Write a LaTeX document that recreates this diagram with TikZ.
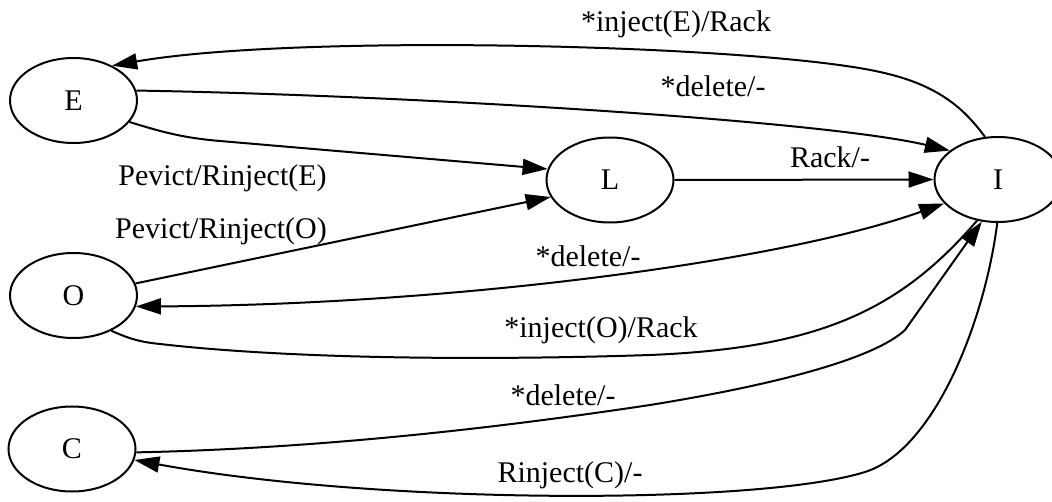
\documentclass[tikz,border=0pt]{standalone}
\usepackage{fontspec}
\setmainfont{Liberation Serif}
\usetikzlibrary{shapes.geometric,arrows.meta}
\begin{document}
\begin{tikzpicture}[x=1pt,y=-1pt,
  state/.style={ellipse,draw,line width=2pt,minimum width=127pt,minimum height=85pt,inner sep=0pt,font=\fontsize{30}{36}\selectfont},
  edge/.style={line width=2pt},
  tip/.tip={Triangle[length=25pt,width=16pt]},
  arr/.style={-tip},
  lbl/.style={font=\fontsize{30}{36}\selectfont,anchor=base,inner sep=0pt}]
\useasboundingbox (0,0) rectangle (1052,502);
\node[state] (E) at (73.5,100.5) {E};
\node[state] (O) at (73.5,295.5) {O};
\node[state] (C) at (72,449) {C};
\node[state] (L) at (610,180) {L};
\node[state] (I) at (998,179.5) {I};
% I -> E
\draw[edge,arr] (I.107) .. controls (965,110) and (940,85) .. (880,72) .. controls (760,45) and (300,33) .. (E.42);
% E -> I
\draw[edge,arr] (E.9) .. controls (400,95) and (820,120) .. (I.149);
% E -> L
\draw[edge,arr] (E.-21) .. controls (165,133) and (185,138) .. (220,141) -- (L.170);
% L -> I
\draw[edge,arr] (L.east) -- (I.west);
% O -> L
\draw[edge,arr] (O.11) -- (L.196);
% I <-> O
\draw[edge,tip-tip] (O.-10) .. controls (450,305) and (780,262) .. (I.204);
% O -- I
\draw[edge] (O.-43) .. controls (130,339) and (140,342) .. (160,344) .. controls (300,360) and (500,360) .. (650,355) .. controls (820,348) and (900,310) .. (I.243);
% C -> I
\draw[edge,arr] (C.-3) .. controls (350,448) and (550,420) .. (650,405) .. controls (780,384) and (875,358) .. (905,330) -- (I.249);
% I -> C
\draw[edge,arr] (I.269) .. controls (985,320) and (935,450) .. (865,472) .. controls (760,505) and (380,505) .. (C.-10);
% labels
\node[lbl] (l1) at (676,32) {*inject(E)/Rack};
\node[lbl] (l2) at (713,97) {*delete/-};
\node[lbl] (l3) at (830,168) {Rack/-};
\node[lbl] (l4) at (222.5,186) {Pevict/Rinject(E)};
\node[lbl] (l5) at (221,239) {Pevict/Rinject(O)};
\node[lbl] (l6) at (588,267) {*delete/-};
\node[lbl] (l7) at (601,338) {*inject(O)/Rack};
\node[lbl] (l8) at (563,406) {*delete/-};
\node[lbl] (l9) at (570,482) {Rinject(C)/-};
\end{tikzpicture}
\end{document}
